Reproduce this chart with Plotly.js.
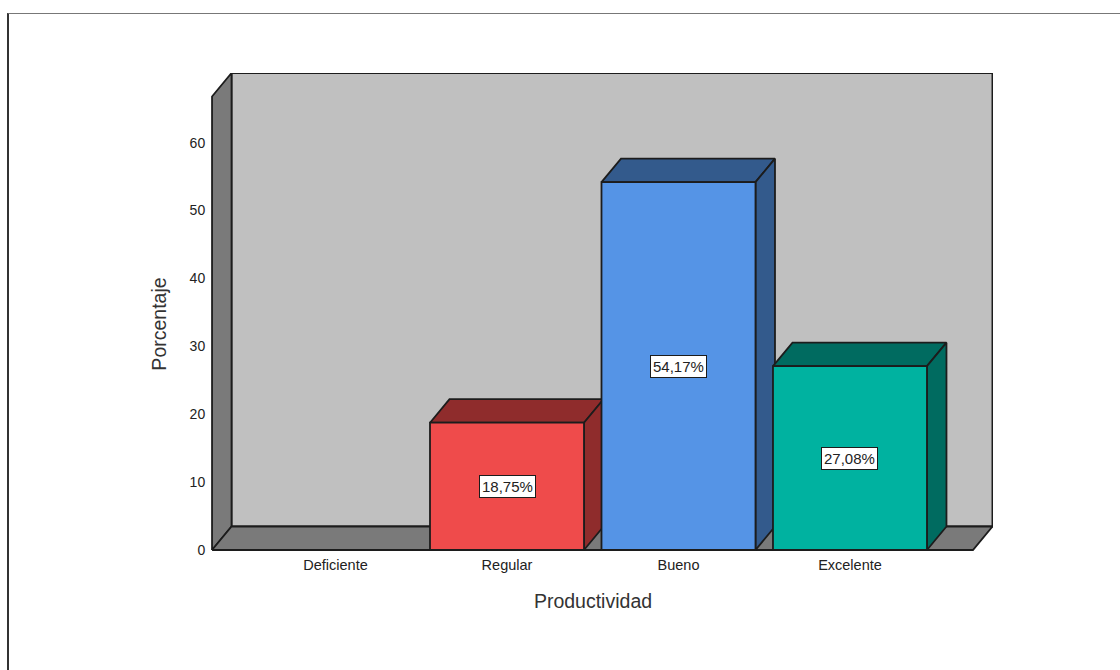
<!DOCTYPE html>
<html lang="es">
<head>
<meta charset="utf-8">
<title>Productividad</title>
<script src="https://cdn.plot.ly/plotly-3.0.1.min.js"></script>
<style>
  html, body { margin: 0; padding: 0; background: #fff; overflow: hidden; }
  #frame { position: absolute; left: 7px; top: 13px; right: 0; bottom: 0;
           border-left: 2px solid #333; border-top: 1px solid #777; }
  #chart { position: absolute; left: 0; top: 0; width: 1120px; height: 670px; }
</style>
</head>
<body>
<div id="frame"></div>
<div id="chart"></div>
<script>
// Porcentaje de respuestas por nivel de productividad
const categories = ['Deficiente', 'Regular', 'Bueno', 'Excelente'];
const percentages = [0, 18.75, 54.17, 27.08];
const valueLabels = ['', '18,75%', '54,17%', '27,08%'];
const frontColors = ['#ef4b4b', '#ef4b4b', '#5594e6', '#00b2a0'];
const shadeColors = ['#8f2c2c', '#8f2c2c', '#335a8c', '#006b60'];
const yTicks = [0, 10, 20, 30, 40, 50, 60];

// Axis ranges hold the whole box plus padding that centres the axis titles
// on the front plane; the axes themselves are pinned to that plane.
const xRange = [-0.831, 3.834];
const yRange = [-3.68, 70.25];
const boxLeft = -0.72;
const boxRight = 3.717;
const boxTop = 66.79;
const depthX = 0.1137;
const depthY = 3.46;
const barWidth = 0.898;

const edge = { color: '#1c1c1c', width: 1.8 };
const wallGray = '#c0c0c0';
const sideGray = '#7a7a7a';

function face(xs, ys, fill) {
  return {
    type: 'scatter', mode: 'lines', x: xs, y: ys,
    fill: 'toself', fillcolor: fill, line: edge,
    cliponaxis: false, hoverinfo: 'skip', showlegend: false
  };
}

const traces = [
  // back wall, left wall, floor
  face([boxLeft + depthX, boxRight + depthX, boxRight + depthX, boxLeft + depthX, boxLeft + depthX],
       [depthY, depthY, boxTop + depthY, boxTop + depthY, depthY], wallGray),
  face([boxLeft, boxLeft + depthX, boxLeft + depthX, boxLeft, boxLeft],
       [0, depthY, boxTop + depthY, boxTop, 0], sideGray),
  face([boxLeft, boxRight, boxRight + depthX, boxLeft + depthX, boxLeft],
       [0, 0, depthY, depthY, 0], sideGray)
];

// Top and right faces of each bar, under the front faces
categories.forEach((name, i) => {
  const v = percentages[i];
  if (v <= 0) return;
  const l = i - barWidth / 2;
  const r = i + barWidth / 2;
  traces.push(face([l, r, r + depthX, l + depthX, l],
                   [v, v, v + depthY, v + depthY, v], shadeColors[i]));
  traces.push(face([r, r + depthX, r + depthX, r, r],
                   [0, depthY, v + depthY, v, 0], shadeColors[i]));
});

// Front faces sit on an overlaid pair of axes so they cover the shaded faces
traces.push({
  type: 'bar', x: [0, 1, 2, 3], y: percentages, width: barWidth,
  xaxis: 'x2', yaxis: 'y2',
  marker: { color: frontColors, line: edge },
  cliponaxis: false, hoverinfo: 'skip', showlegend: false
});

const annotations = categories.map((name, i) => ({
  x: i, y: percentages[i] / 2, xref: 'x2', yref: 'y2',
  text: valueLabels[i], showarrow: false,
  font: { family: 'Liberation Sans, Arial, sans-serif', size: 15, color: '#222' },
  bgcolor: '#ffffff', bordercolor: '#1c1c1c', borderwidth: 1, borderpad: 2
})).filter((a, i) => percentages[i] > 0);

const axisFont = { family: 'Liberation Sans, Arial, sans-serif', size: 14.5, color: '#222' };
const yTickFont = { family: 'Liberation Sans, Arial, sans-serif', size: 14, color: '#222' };
const titleFont = { family: 'Liberation Sans, Arial, sans-serif', size: 19.5, color: '#333' };

const layout = {
  width: 1120, height: 670,
  margin: { l: 193, r: 127, t: 73, b: 95, pad: 0 },
  paper_bgcolor: 'rgba(0,0,0,0)', plot_bgcolor: 'rgba(0,0,0,0)',
  showlegend: false,
  xaxis: {
    range: xRange, anchor: 'free', position: 25 / 502,
    tickmode: 'array', tickvals: [0, 1, 2, 3], ticktext: categories,
    showgrid: false, zeroline: false, showline: false,
    ticks: 'outside', ticklen: 2, tickcolor: 'rgba(0,0,0,0)', tickfont: axisFont,
    title: { text: 'Productividad', font: titleFont, standoff: 21 }
  },
  yaxis: {
    range: yRange, anchor: 'free', position: 19 / 800,
    tickmode: 'array', tickvals: yTicks,
    showgrid: false, zeroline: false, showline: false,
    ticks: 'outside', ticklen: 4, tickcolor: 'rgba(0,0,0,0)', tickfont: yTickFont,
    title: { text: 'Porcentaje', font: titleFont, standoff: 16 }
  },
  xaxis2: { range: xRange, overlaying: 'x', visible: false, anchor: 'y2' },
  yaxis2: { range: yRange, overlaying: 'y', visible: false, anchor: 'x2' },
  annotations: annotations
};

Plotly.newPlot('chart', traces, layout, { displayModeBar: false, staticPlot: true });
</script>
</body>
</html>
